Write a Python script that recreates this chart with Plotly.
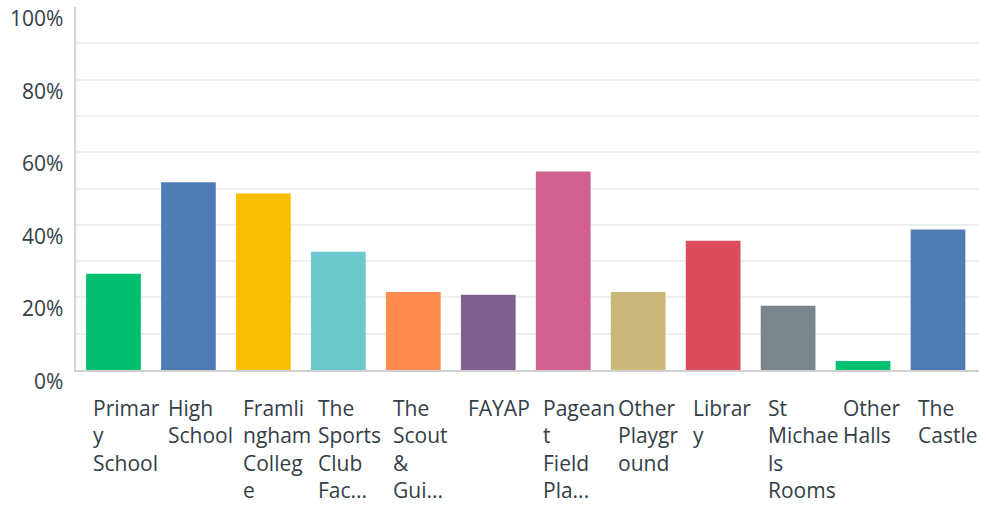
import plotly.graph_objects as go

categories = ["Primary School", "High School", "Framlingham College", "The Sports Club Fac...",
              "The Scout & Gui...", "FAYAP", "Pageant Field Pla...", "Other Playground",
              "Library", "St Michaels Rooms", "Other Halls", "The Castle"]
tick_labels = ["Primar<br>y<br>School", "High<br>School", "Framli<br>ngham<br>Colleg<br>e",
               "The<br>Sports<br>Club<br>Fac...", "The<br>Scout<br>&<br>Gui...", "FAYAP",
               "Pagean<br>t<br>Field<br>Pla...", "Other<br>Playgr<br>ound", "Librar<br>y",
               "St<br>Michae<br>ls<br>Rooms", "Other<br>Halls", "The<br>Castle"]
values = [26.5, 51.7, 48.6, 32.6, 21.5, 20.7, 54.7, 21.5, 35.6, 17.7, 2.5, 38.7]
colors = ["#00BF6F", "#507CB6", "#F9BE00", "#6BC8CD", "#FF8B4F", "#7F5F90",
          "#D25F90", "#C9B877", "#DB4D5C", "#7B868C", "#00BF6F", "#507CB6"]
y_ticks = [0, 20, 40, 60, 80, 100]
y_tick_labels = ["0%", "20%", "40%", "60%", "80%", "100%"]

FONT = "Open Sans"
TXT = "#333e48"

fig = go.Figure(go.Bar(x=categories, y=values, marker=dict(color=colors, line=dict(width=0)),
                       hoverinfo="skip"))

annotations = []
for v, t in zip(y_ticks, y_tick_labels):
    annotations.append(dict(x=0, xref="paper", y=v, yref="y", text=t, showarrow=False,
                            xanchor="right", yanchor="middle", xshift=-11, yshift=-11,
                            font=dict(family=FONT, size=21, color=TXT)))
for c, t in zip(categories, tick_labels):
    annotations.append(dict(x=c, xref="x", y=0, yref="paper", text=t, showarrow=False,
                            xanchor="left", yanchor="top", align="left", xshift=-22, yshift=-22,
                            font=dict(family=FONT, size=21, color=TXT)))

fig.update_layout(
    width=986, height=508,
    margin=dict(l=76, r=7, t=7, b=138),
    paper_bgcolor="white", plot_bgcolor="white",
    bargap=0.27,
    showlegend=False,
    annotations=annotations,
    xaxis=dict(showticklabels=False, ticks="", showgrid=False, showline=True,
               linecolor="#d0d0d0", linewidth=2, zeroline=False, fixedrange=True),
    yaxis=dict(range=[0, 100], dtick=10, showticklabels=False, ticks="", showgrid=True,
               gridcolor="#efefef", gridwidth=2, showline=True, linecolor="#d6d6d6",
               linewidth=2, zeroline=False, fixedrange=True),
)

fig.write_html("out.html", config={"displayModeBar": False},
               post_script="document.body.style.margin='0';")
